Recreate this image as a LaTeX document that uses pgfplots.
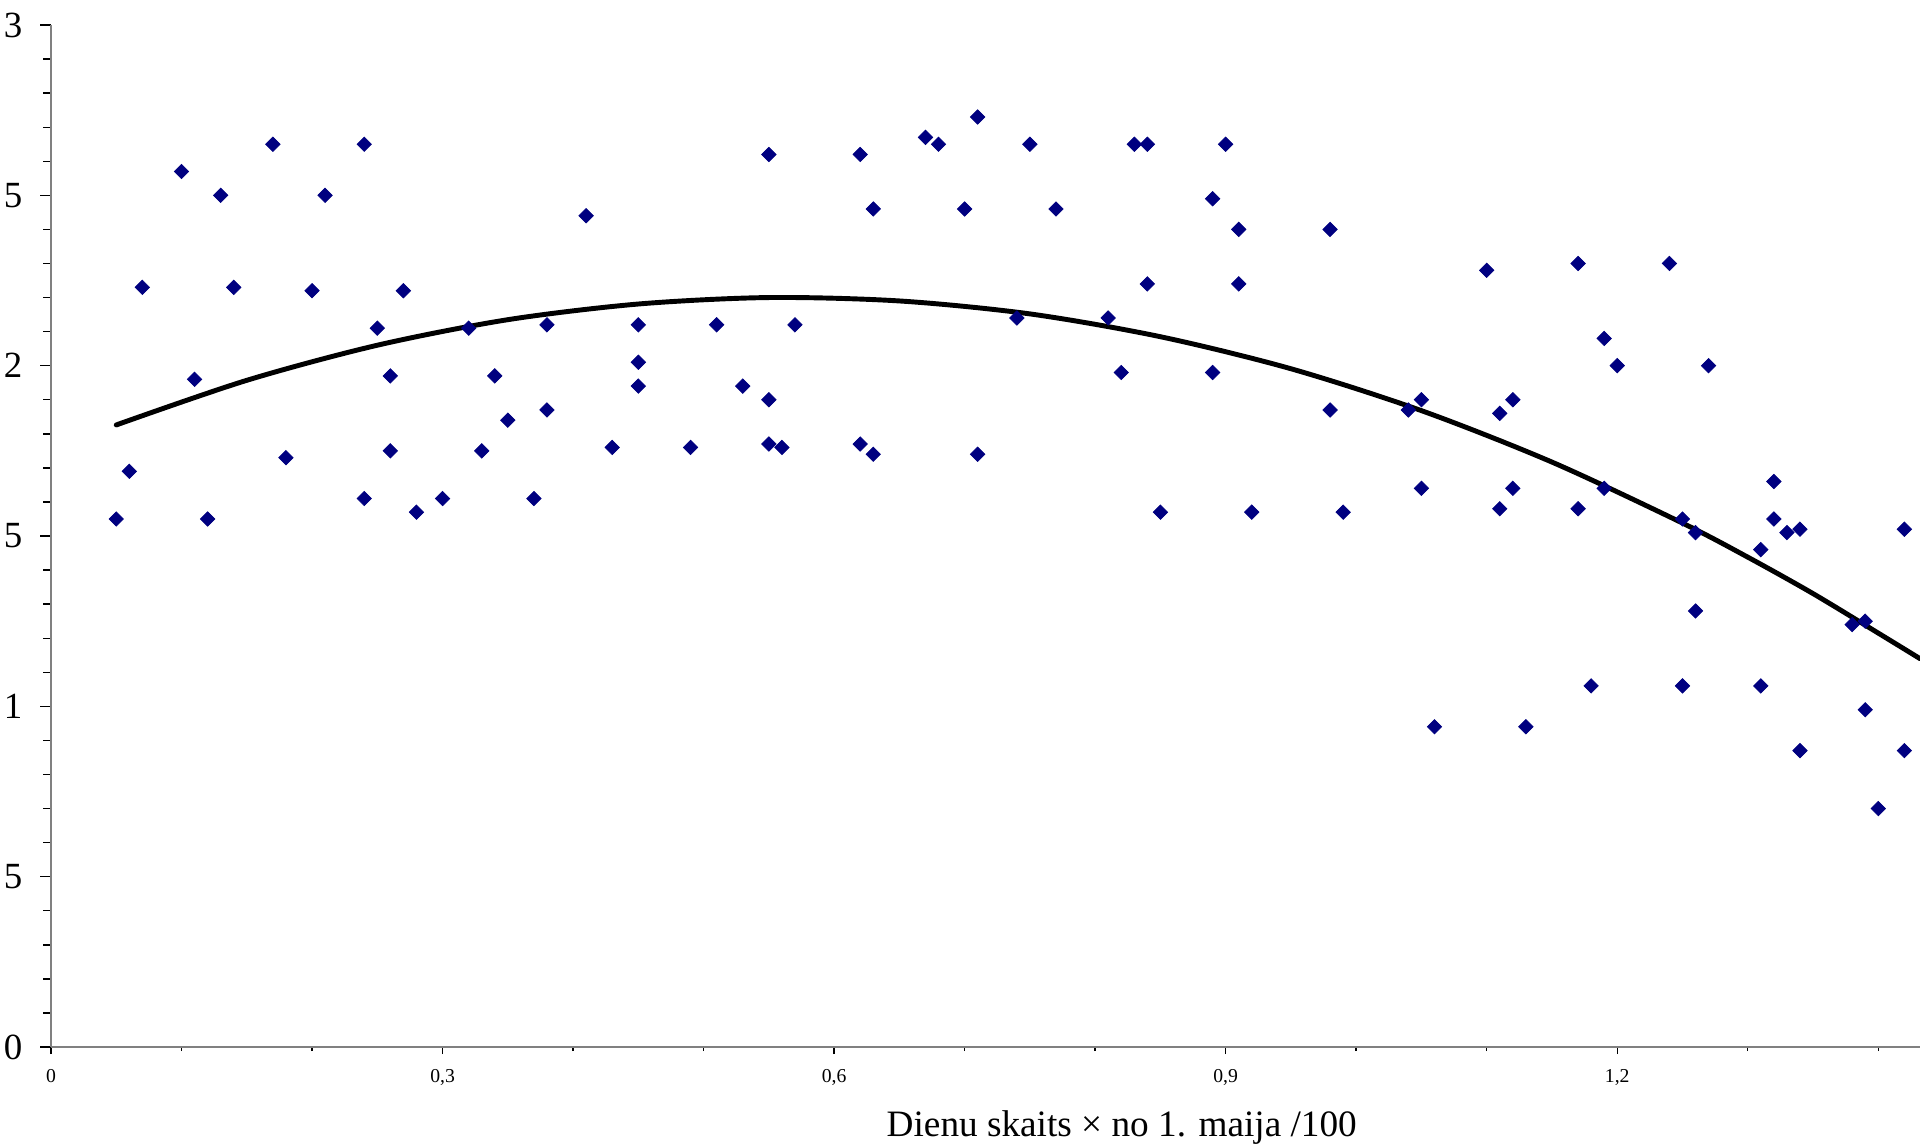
\documentclass[border=0pt]{standalone}
\usepackage{fontspec}
\setmainfont{Liberation Serif}
\usepackage{pgfplots}
\pgfplotsset{compat=1.18}
\definecolor{navy}{RGB}{0,0,128}

\begin{document}
\begin{tikzpicture}
\useasboundingbox (-0.51,-0.98) rectangle (18.69,10.47);
\clip (-0.51,-0.98) rectangle (18.69,10.47);
\begin{axis}[
    width=18.69cm, height=10.22cm, scale only axis,
    xmin=0, xmax=1.432, ymin=0, ymax=3,
    axis x line*=bottom, axis y line*=left,
    axis line style={draw=gray, line width=0.5pt, -},
    tick align=outside,
    tick style={black, line width=0.4pt},
    major tick length=1.1mm, minor tick length=0.8mm,
    xtick style={/pgfplots/major tick length=0.7mm, /pgfplots/minor tick length=0.4mm},
    xtick={0,0.3,0.6,0.9,1.2},
    xticklabels={0,{0,3},{0,6},{0,9},{1,2}},
    minor xtick={0.1,0.2,0.4,0.5,0.7,0.8,1.0,1.1,1.3,1.4},
    ytick={0,0.5,1,1.5,2,2.5,3},
    yticklabels={0,5,1,5,2,5,3},
    minor ytick={0.1,0.2,0.3,0.4,0.6,0.7,0.8,0.9,1.1,1.2,1.3,1.4,1.6,1.7,1.8,1.9,2.1,2.2,2.3,2.4,2.6,2.7,2.8,2.9},
    yticklabel style={font=\fontsize{10.5}{12}\selectfont, anchor=east, inner sep=0pt, xshift=-1.7mm},
    xticklabel style={font=\fontsize{5.6}{7}\selectfont, anchor=north, inner sep=0pt, yshift=-1.1mm},
    xlabel={Dienu skaits \texttimes{} no 1. maija /100},
    xlabel style={font=\fontsize{10.6}{12}\selectfont, at={(axis description cs:0.5729,0)}, anchor=base, yshift=-0.89cm, inner sep=0pt},
    clip=false,
]
\addplot[only marks, mark=square*, mark size=1.45pt,
    mark options={rotate=45, fill=navy, draw=navy, line width=0.2pt}]
coordinates {
(0.05,1.55) (0.06,1.69) (0.07,2.23) (0.10,2.57) (0.11,1.96) (0.12,1.55)
(0.13,2.50) (0.14,2.23) (0.17,2.65) (0.18,1.73) (0.20,2.22) (0.21,2.50)
(0.24,2.65) (0.24,1.61) (0.25,2.11) (0.26,1.97) (0.26,1.75) (0.27,2.22)
(0.28,1.57) (0.30,1.61) (0.32,2.11) (0.33,1.75) (0.34,1.97) (0.35,1.84)
(0.37,1.61) (0.38,2.12) (0.38,1.87) (0.41,2.44) (0.43,1.76) (0.45,2.12)
(0.45,2.01) (0.45,1.94) (0.49,1.76) (0.51,2.12) (0.53,1.94) (0.55,2.62)
(0.55,1.90) (0.55,1.77) (0.56,1.76) (0.57,2.12) (0.62,2.62) (0.62,1.77)
(0.63,2.46) (0.63,1.74) (0.67,2.67) (0.68,2.65) (0.70,2.46) (0.71,2.73)
(0.71,1.74) (0.74,2.14) (0.75,2.65) (0.77,2.46) (0.81,2.14) (0.82,1.98)
(0.83,2.65) (0.84,2.65) (0.84,2.24) (0.85,1.57) (0.89,2.49) (0.89,1.98)
(0.90,2.65) (0.91,2.40) (0.91,2.24) (0.92,1.57) (0.98,2.40) (0.98,1.87)
(0.99,1.57) (1.04,1.87) (1.05,1.90) (1.05,1.64) (1.06,0.94) (1.10,2.28)
(1.11,1.86) (1.11,1.58) (1.12,1.90) (1.12,1.64) (1.13,0.94) (1.17,2.30)
(1.17,1.58) (1.18,1.06) (1.19,2.08) (1.19,1.64) (1.20,2.00) (1.24,2.30)
(1.25,1.55) (1.25,1.06) (1.26,1.51) (1.26,1.28) (1.27,2.00) (1.31,1.46)
(1.31,1.06) (1.32,1.66) (1.32,1.55) (1.33,1.51) (1.34,1.52) (1.34,0.87)
(1.38,1.24) (1.39,1.25) (1.39,0.99) (1.40,0.70) (1.42,1.52) (1.42,0.87)
};
% trend line
\addplot[black, line width=1.4pt, smooth, line cap=round] coordinates {
(0.05,1.826) (0.15,1.957) (0.25,2.060) (0.35,2.135) (0.45,2.181)
(0.55,2.200) (0.65,2.190) (0.75,2.152) (0.85,2.085) (0.95,1.991)
(1.05,1.868) (1.15,1.717) (1.25,1.538) (1.30,1.438) (1.35,1.331)
(1.40,1.215) (1.432,1.140)
};
\end{axis}
\end{tikzpicture}
\end{document}
